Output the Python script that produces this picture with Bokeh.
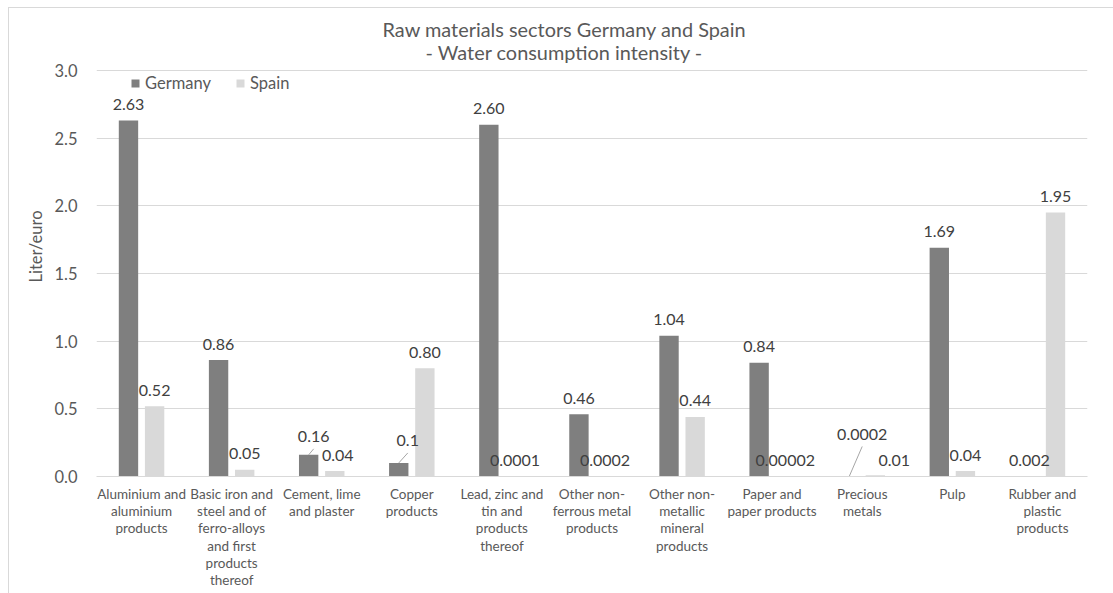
from bokeh.plotting import figure
from bokeh.models import (ColumnDataSource, FactorRange, Range1d, FixedTicker,
                          NumeralTickFormatter, Label, Legend, LegendItem, Title)
from bokeh.core.properties import value
from bokeh.transform import dodge
from bokeh.embed import file_html
from bokeh.resources import INLINE

# ---- data -------------------------------------------------------------
categories = [
    "Aluminium and\naluminium\nproducts",
    "Basic iron and\nsteel and of\nferro-alloys\nand first\nproducts\nthereof",
    "Cement, lime\nand plaster",
    "Copper\nproducts",
    "Lead, zinc and\ntin and\nproducts\nthereof",
    "Other non-\nferrous metal\nproducts",
    "Other non-\nmetallic\nmineral\nproducts",
    "Paper and\npaper products",
    "Precious\nmetals",
    "Pulp",
    "Rubber and\nplastic\nproducts",
]
germany_text = ["2.63", "0.86", "0.16", "0.1", "2.60", "0.46", "1.04", "0.84", "0.0002", "1.69", "0.002"]
spain_text = ["0.52", "0.05", "0.04", "0.80", "0.0001", "0.0002", "0.44", "0.00002", "0.01", "0.04", "1.95"]
germany = [float(s) for s in germany_text]
spain = [float(s) for s in spain_text]
y_ticks = [0.0, 0.5, 1.0, 1.5, 2.0, 2.5, 3.0]

# ---- style ------------------------------------------------------------
FONT = "Lato"
AXIS_TEXT = "#595959"
VALUE_TEXT = "#404040"
GER_COLOR = "#7f7f7f"
ESP_COLOR = "#d9d9d9"
GRID = "#d9d9d9"
LEADER = "#a6a6a6"

W, H = 1113, 593
LEFT, RIGHT, BOTTOM = 96, 26, 117
AXIS_TOP = 70                     # pixel row of the 3.0 gridline
Y_MAX = 3.0
PX_Y = (H - BOTTOM - AXIS_TOP) / Y_MAX
Y_END = (H - BOTTOM) / PX_Y       # frame reaches the top edge, room for the heading
PX_X = (W - LEFT - RIGHT) / len(categories)
OFFSET = 0.145                    # half distance between the two bars of a group
BAR_W = 0.215
LABEL_GAP = 16                    # label centre above bar top, px

# label nudges (px right, px down) for crowded groups
nudge = {
    ("Germany", 2): (5, -2),
    ("Germany", 3): (9, -6),
    ("Germany", 8): (13, -26),
    ("Spain", 2): (3, 0),
    ("Spain", 8): (19, 1),
}
leaders = [("Germany", 2), ("Germany", 3), ("Germany", 8)]

p = figure(width=W, height=H, title=None,
           x_range=FactorRange(*categories, range_padding=0),
           y_range=Range1d(0, Y_END),
           output_backend="svg", toolbar_location=None,
           min_border_left=LEFT, min_border_right=RIGHT,
           min_border_top=0, min_border_bottom=BOTTOM)
p.border_fill_color = None
p.background_fill_color = None
p.outline_line_color = None
p.styles = {
    "background": ("linear-gradient(#d9d9d9,#d9d9d9) 8px 7px / 1px calc(100% - 7px) no-repeat, "
                   "linear-gradient(#d9d9d9,#d9d9d9) 8px 7px / calc(100% - 8px) 1px no-repeat, #ffffff"),
}

src = ColumnDataSource(dict(cat=categories, germany=germany, spain=spain))

rg = p.vbar(x=dodge("cat", -OFFSET, range=p.x_range), top="germany", width=BAR_W,
            source=src, fill_color=GER_COLOR, line_color=None)
rs = p.vbar(x=dodge("cat", OFFSET, range=p.x_range), top="spain", width=BAR_W,
            source=src, fill_color=ESP_COLOR, line_color=None)

# value labels
for name, vals, texts, sign in (("Germany", germany, germany_text, -1),
                                ("Spain", spain, spain_text, 1)):
    xo, yo = [], []
    for i in range(len(categories)):
        dx, dy = nudge.get((name, i), (0, 0))
        xo.append(dx)
        yo.append(-LABEL_GAP + dy)
    lsrc = ColumnDataSource(dict(cat=categories, v=vals, t=texts, xo=xo, yo=yo))
    p.text(x=dodge("cat", sign * OFFSET, range=p.x_range), y="v", text="t",
           x_offset="xo", y_offset="yo", source=lsrc,
           text_font=value(FONT), text_font_size="16px", text_color=VALUE_TEXT,
           text_align="center", text_baseline="middle")

# leader lines from moved labels back to their bars
x0, y0, x1, y1 = [], [], [], []
for name, i in leaders:
    c = categories[i]
    v = germany[i] if name == "Germany" else spain[i]
    off = -OFFSET if name == "Germany" else OFFSET
    dx, dy = nudge[(name, i)]
    x0.append((c, off + dx / PX_X))
    y0.append(v + (LABEL_GAP - dy - 12) / PX_Y)
    x1.append((c, off))
    y1.append(v)
p.segment(x0=x0, y0=y0, x1=x1, y1=y1, line_color=LEADER, line_width=1)

# axes
p.yaxis.ticker = FixedTicker(ticks=y_ticks)
p.yaxis.formatter = NumeralTickFormatter(format="0.0")
p.yaxis.axis_line_color = None
p.yaxis.major_tick_line_color = None
p.yaxis.minor_tick_line_color = None
p.yaxis.major_tick_out = 0
p.yaxis.major_label_standoff = 19
p.yaxis.major_label_text_font = FONT
p.yaxis.major_label_text_font_size = "16.5px"
p.yaxis.major_label_text_color = AXIS_TEXT

p.xaxis.axis_line_color = GRID
p.xaxis.major_tick_line_color = None
p.xaxis.major_tick_out = 0
p.xaxis.major_label_standoff = 9
p.xaxis.major_label_text_font = FONT
p.xaxis.major_label_text_font_size = "13.5px"
p.xaxis.major_label_text_line_height = 1.085
p.xaxis.major_label_text_color = AXIS_TEXT

p.ygrid.ticker = FixedTicker(ticks=y_ticks)
p.ygrid.grid_line_color = GRID
p.xgrid.grid_line_color = None

# legend
legend = Legend(items=[LegendItem(label="Germany", renderers=[rg]),
                       LegendItem(label="Spain", renderers=[rs])],
                orientation="horizontal", location=(34, 383),
                glyph_width=10, glyph_height=10, label_standoff=5, spacing=24,
                padding=0, margin=0, border_line_color=None,
                background_fill_alpha=0,
                label_text_font=FONT, label_text_font_size="16.5px",
                label_text_color=AXIS_TEXT)
p.add_layout(legend)

# heading, inside the upper part of the frame
for txt, ypx in (("Raw materials sectors Germany and Spain", 28),
                 ("- Water consumption intensity -", 51)):
    p.add_layout(Label(x=564 - LEFT, y=(H - BOTTOM) - ypx, x_units="screen", y_units="screen",
                       text=txt, text_font=FONT, text_font_size="19.9px",
                       text_color=AXIS_TEXT, text_align="center", text_baseline="middle"))

# y caption as a side title
p.add_layout(Title(text="Liter/euro", align="left", offset=194, standoff=12,
                   text_font=FONT, text_font_size="16.5px", text_font_style="normal",
                   text_color=AXIS_TEXT), "left")

open("out.html", "w").write(file_html(p, INLINE))
